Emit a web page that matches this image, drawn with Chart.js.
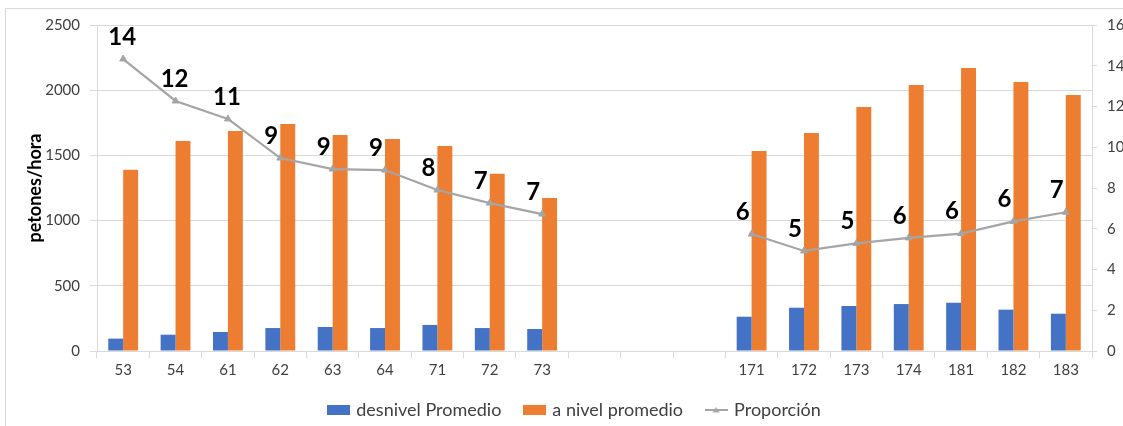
<!DOCTYPE html>
<html>
<head>
<meta charset="utf-8">
<title>petones/hora</title>
<script src="https://cdn.jsdelivr.net/npm/chart.js@4/dist/chart.umd.min.js"></script>
<style>
    html, body { margin: 0; padding: 0; background: #fff; overflow: hidden; }
    body { width: 1123px; height: 426px; position: relative; }
    .frame { position: absolute; left: 5px; top: 8px; width: 1200px; height: 500px; border-left: 1px solid #d9d9d9; border-top: 1px solid #d9d9d9; }
    .rtb-chart { position: absolute; left: 0; top: 0; width: 1150px; height: 429px; }
</style>
</head>
<body>
<div class="frame"></div>
<div class="rtb-chart"><canvas></canvas></div>
<script>

// categories (three empty slots between the two groups)
const categories = [ '53', '54', '61', '62', '63', '64', '71', '72', '73', '', '', '', '171', '172', '173', '174', '181', '182', '183' ];

// desnivel Promedio (left axis)
const desnivel = [ 95, 125, 146, 176, 184, 176, 200, 176, 169, null, null, null, 263, 332, 345, 360, 370, 317, 286 ];

// a nivel promedio (left axis)
const aNivel = [ 1390, 1610, 1687, 1741, 1656, 1626, 1572, 1360, 1173, null, null, null, 1534, 1672, 1871, 2040, 2170, 2063, 1963 ];

// Proporción (right axis)
const proporcion = [ 14.33, 12.27, 11.39, 9.47, 8.93, 8.88, 7.90, 7.26, 6.72, null, null, null, 5.74, 4.91, 5.28, 5.55, 5.76, 6.36, 6.81 ];

const seriesNames = [ 'desnivel Promedio', 'a nivel promedio', 'Proporción' ];

// axis ranges
const leftMax = 2500, leftStep = 500;
const rightMax = 16, rightStep = 2;

const FONT = 'Lato, "Open Sans", sans-serif';
const BLUE = '#4472c4', ORANGE = '#ed7d31', GREY = '#a5a5a5', GRID = '#d9d9d9', TXT = '#404040';

/**
 * small legend glyph
 * @param {String} type bar or line
 * @param {String} color fill color
 * @returns canvas
 */
function legend_swatch( type, color ) {

    let c = document.createElement( 'canvas' ),
        ctx = c.getContext( '2d' );

    c.width = 23;
    c.height = 10;
    ctx.fillStyle = color;
    ctx.strokeStyle = color;

    if( type == 'bar' ) {

        ctx.fillRect( 0, 0, 23, 10 );

    } else {

        ctx.lineWidth = 2;
        ctx.beginPath();
        ctx.moveTo( 0, 5 );
        ctx.lineTo( 23, 5 );
        ctx.stroke();
        ctx.beginPath();
        ctx.moveTo( 11.5, 2 );
        ctx.lineTo( 15, 7.5 );
        ctx.lineTo( 8, 7.5 );
        ctx.closePath();
        ctx.fill();

    }

    return c;

};

/**
 * rounded labels above the Proporción points
 */
const pointLabels = {
    id: 'pointLabels',
    afterDatasetsDraw: ( chart ) => {

        let meta = chart.getDatasetMeta( 2 ),
            ctx = chart.ctx;

        ctx.save();
        ctx.font = 'bold 24px ' + FONT;
        ctx.fillStyle = '#000';
        ctx.textAlign = 'center';
        ctx.textBaseline = 'middle';

        meta.data.forEach( ( pt, i ) => {

            if( proporcion[ i ] == null ) return;

            let t = String( Math.round( proporcion[ i ] ) );

            ctx.fillText( t, pt.x + ( t.length > 1 ? -1 : -9 ), pt.y - 22 );

        } );

        ctx.restore();

    }
};

document.addEventListener( 'DOMContentLoaded', () => {

    let container = document.querySelector( '.rtb-chart' ),
        ctx = container.querySelector( 'canvas' ).getContext( '2d' ),
        swatches = [
            legend_swatch( 'bar', BLUE ),
            legend_swatch( 'bar', ORANGE ),
            legend_swatch( 'line', GREY )
        ];

    new Chart( ctx, {
        type: 'bar',
        data: {
            labels: categories,
            datasets: [ {
                label: seriesNames[0],
                data: desnivel,
                backgroundColor: BLUE,
                yAxisID: 'y',
                order: 2
            }, {
                label: seriesNames[1],
                data: aNivel,
                backgroundColor: ORANGE,
                yAxisID: 'y',
                order: 2
            }, {
                type: 'line',
                label: seriesNames[2],
                data: proporcion,
                borderColor: GREY,
                backgroundColor: GREY,
                borderWidth: 2.25,
                pointStyle: 'triangle',
                pointRadius: 4,
                pointBorderWidth: 1,
                spanGaps: false,
                tension: 0,
                yAxisID: 'y1',
                order: 1
            } ]
        },
        options: {
            responsive: true,
            maintainAspectRatio: false,
            animation: false,
            categoryPercentage: 0.57,
            barPercentage: 1,
            layout: {
                padding: { top: 25, left: 0, right: 0, bottom: 0 }
            },
            plugins: {
                tooltip: { enabled: false },
                legend: {
                    position: 'bottom',
                    labels: {
                        usePointStyle: true,
                        pointStyleWidth: 18,
                        boxHeight: 10,
                        padding: 24,
                        color: TXT,
                        font: { family: FONT, size: 18 },
                        generateLabels: () => seriesNames.map( ( n, i ) => ( {
                            text: n,
                            pointStyle: swatches[ i ],
                            fillStyle: '#fff',
                            strokeStyle: '#fff',
                            lineWidth: 0,
                            fontColor: TXT,
                            hidden: false,
                            datasetIndex: i
                        } ) )
                    }
                }
            },
            scales: {
                x: {
                    offset: true,
                    border: { color: GRID },
                    grid: {
                        offset: true,
                        drawOnChartArea: false,
                        tickLength: 7,
                        color: GRID
                    },
                    ticks: {
                        autoSkip: false,
                        maxRotation: 0,
                        padding: 3,
                        color: TXT,
                        font: { family: FONT, size: 15 }
                    },
                    afterFit: ( scale ) => { scale.height = 26; }
                },
                y: {
                    position: 'left',
                    min: 0,
                    max: leftMax,
                    border: { color: GRID },
                    grid: {
                        color: GRID,
                        tickLength: 7
                    },
                    ticks: {
                        stepSize: leftStep,
                        padding: 10,
                        color: TXT,
                        font: { family: FONT, size: 15 },
                        callback: ( value ) => String( value )
                    },
                    title: {
                        display: true,
                        text: 'petones/hora',
                        color: '#000',
                        padding: { top: 24, bottom: 0 },
                        font: { family: FONT, size: 18, weight: 'bold' }
                    },
                    afterFit: ( scale ) => { scale.width = 97; }
                },
                y1: {
                    position: 'right',
                    min: 0,
                    max: rightMax,
                    border: { color: GRID },
                    grid: {
                        drawOnChartArea: false,
                        tickLength: 5,
                        color: GRID
                    },
                    ticks: {
                        stepSize: rightStep,
                        padding: 10,
                        color: TXT,
                        font: { family: FONT, size: 15 },
                        callback: ( value ) => String( value )
                    },
                    afterFit: ( scale ) => { scale.width = 58; }
                }
            }
        },
        plugins: [ pointLabels ]
    } );

} );

</script>
</body>
</html>
